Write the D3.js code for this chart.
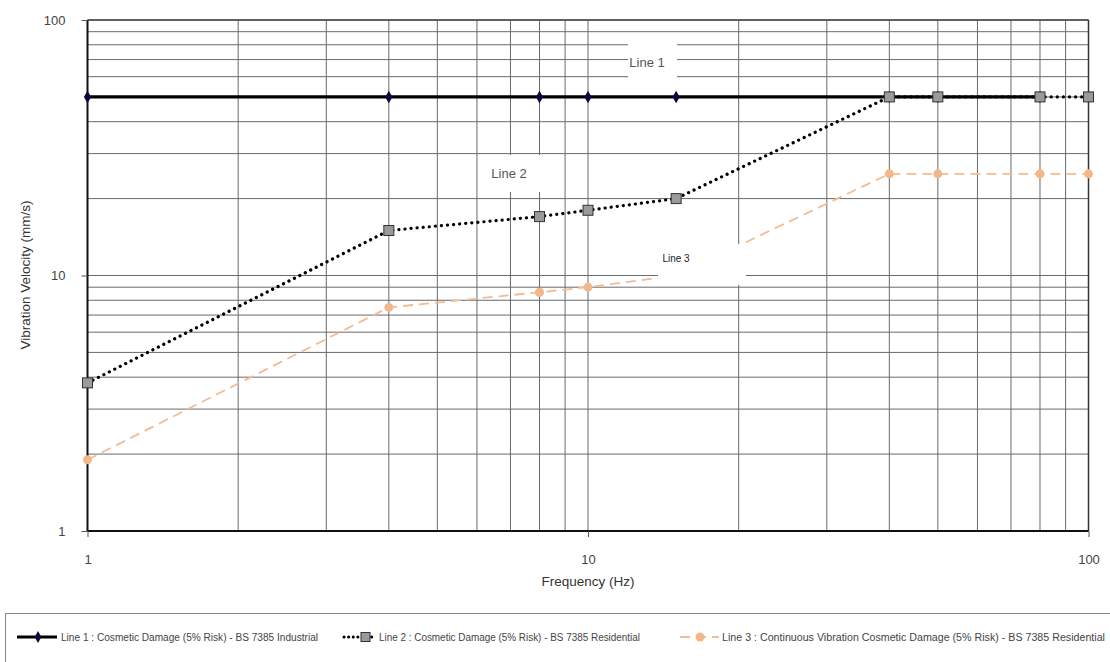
<!DOCTYPE html>
<html><head><meta charset="utf-8">
<script src="https://cdn.jsdelivr.net/npm/d3@7"></script>
<style>
body{margin:0;background:#fff;}
text{font-family:"Liberation Sans",Arial,sans-serif;}
</style></head>
<body><svg id="c" width="1110" height="662"></svg>
<script>
const freqTickLabels = [1, 10, 100];
const velTickLabels = [1, 10, 100];
const line1Freq = [1, 4, 8, 10, 15, 40, 50, 80];
const line1Vel  = [50, 50, 50, 50, 50, 50, 50, 50];
const line2Freq = [1, 4, 8, 10, 15, 40, 50, 80, 100];
const line2Vel  = [3.8, 15, 17, 18, 20, 50, 50, 50, 50];
const line3Freq = [1, 4, 8, 10, 15, 40, 50, 80, 100];
const line3Vel  = [1.9, 7.5, 8.6, 9, 10, 25, 25, 25, 25];
const seriesNames = [
  "Line 1 : Cosmetic Damage (5% Risk) - BS 7385 Industrial",
  "Line 2 : Cosmetic Damage (5% Risk) - BS 7385 Residential",
  "Line 3 : Continuous Vibration Cosmetic Damage (5% Risk) - BS 7385 Residential"
];
const inlineLabels = ["Line 1", "Line 2", "Line 3"];

const svg = d3.select("#c");
const x = d3.scaleLog().domain([1, 100]).range([87.5, 1088.5]);
const y = d3.scaleLog().domain([1, 100]).range([531, 20]);

// grid
const g = svg.append("g");
g.selectAll(".vg").data(x.ticks()).join("line")
  .attr("x1", d => x(d)).attr("x2", d => x(d)).attr("y1", y(100)).attr("y2", y(1))
  .attr("stroke", "#6a6a6a").attr("stroke-width", 1);
g.selectAll(".hg").data(y.ticks()).join("line")
  .attr("y1", d => y(d)).attr("y2", d => y(d)).attr("x1", x(1)).attr("x2", x(100))
  .attr("stroke", "#6a6a6a").attr("stroke-width", 1);

// frame
svg.append("line").attr("x1", x(1)).attr("x2", x(100)).attr("y1", y(100)).attr("y2", y(100)).attr("stroke", "#444").attr("stroke-width", 1.5);
svg.append("line").attr("x1", x(100)).attr("x2", x(100)).attr("y1", y(100)).attr("y2", y(1)).attr("stroke", "#333").attr("stroke-width", 1.5);
svg.append("line").attr("x1", x(1)).attr("x2", x(100)).attr("y1", y(1)).attr("y2", y(1)).attr("stroke", "#111").attr("stroke-width", 2);
svg.append("line").attr("x1", x(1)).attr("x2", x(1)).attr("y1", y(100)).attr("y2", y(1)).attr("stroke", "#111").attr("stroke-width", 2);

// axes ticks & labels
const yAxis = d3.axisLeft(y).tickValues(velTickLabels).tickFormat(d3.format("d")).tickSize(6).tickPadding(16);
const ya = svg.append("g").attr("transform", `translate(${x(1)},0)`).call(yAxis);
const xAxis = d3.axisBottom(x).tickValues(freqTickLabels).tickFormat(d3.format("d")).tickSize(6).tickPadding(18);
const xa = svg.append("g").attr("transform", `translate(0,${y(1)})`).call(xAxis);
[ya, xa].forEach(a => {
  a.select(".domain").remove();
  a.selectAll("line").attr("stroke", "#555");
  a.selectAll("text").attr("fill", "#444").style("font-size", "13px").style("font-family", "Liberation Sans, Arial, sans-serif");
});

svg.append("text").attr("x", 588).attr("y", 586).attr("text-anchor", "middle")
  .attr("fill", "#333").style("font-size", "13.5px").text("Frequency (Hz)");
svg.append("text").attr("transform", "translate(30,275) rotate(-90)").attr("text-anchor", "middle")
  .attr("fill", "#333").style("font-size", "13.5px").text("Vibration Velocity (mm/s)");

const lineGen = d3.line().x(d => x(d[0])).y(d => y(d[1]));
const d1 = line1Freq.map((f, i) => [f, line1Vel[i]]);
const d2 = line2Freq.map((f, i) => [f, line2Vel[i]]);
const d3d = line3Freq.map((f, i) => [f, line3Vel[i]]);

svg.append("path").attr("d", lineGen(d3d)).attr("fill", "none")
  .attr("stroke", "#f2bc94").attr("stroke-width", 1.8).attr("stroke-dasharray", "10,6");
svg.append("path").attr("d", lineGen(d2)).attr("fill", "none")
  .attr("stroke", "#000").attr("stroke-width", 3.2).attr("stroke-linecap", "round").attr("stroke-dasharray", "0.1,6");
svg.append("path").attr("d", lineGen(d1)).attr("fill", "none")
  .attr("stroke", "#000").attr("stroke-width", 3.2);

svg.selectAll(".m1").data(d1).join("path")
  .attr("transform", d => `translate(${x(d[0])},${y(d[1])})`)
  .attr("d", d3.symbol().type(d3.symbolDiamond).size(45)).attr("fill", "#0a0a40");
svg.selectAll(".m2").data(d2).join("rect")
  .attr("x", d => x(d[0]) - 5).attr("y", d => y(d[1]) - 5).attr("width", 10).attr("height", 10)
  .attr("fill", "#9a9a9a").attr("stroke", "#333").attr("stroke-width", 1);
svg.selectAll(".m3").data(d3d).join("circle")
  .attr("cx", d => x(d[0])).attr("cy", d => y(d[1])).attr("r", 4.5).attr("fill", "#f2b88c");

const lab = [
  {t: inlineLabels[0], bx: 628, by: 38, bw: 49, bh: 48, tx: 647, ty: 67, fs: 13, c: "#555"},
  {t: inlineLabels[1], bx: 478, by: 155, bw: 62, bh: 37, tx: 509, ty: 178, fs: 13, c: "#555"},
  {t: inlineLabels[2], bx: 658, by: 244, bw: 88, bh: 41, tx: 676, ty: 262, fs: 10, c: "#222"}
];
lab.forEach(l => {
  svg.append("rect").attr("x", l.bx).attr("y", l.by).attr("width", l.bw).attr("height", l.bh).attr("fill", "#fff");
  svg.append("text").attr("x", l.tx).attr("y", l.ty).attr("text-anchor", "middle")
    .attr("fill", l.c).style("font-size", l.fs + "px").text(l.t);
});

// legend
svg.append("rect").attr("x", 5.5).attr("y", 613.5).attr("width", 1120).attr("height", 60)
  .attr("fill", "#fff").attr("stroke", "#888").attr("stroke-width", 1);
const ly = 637;
const leg = svg.append("g");
leg.append("line").attr("x1", 17).attr("x2", 57).attr("y1", ly).attr("y2", ly).attr("stroke", "#000").attr("stroke-width", 3);
leg.append("path").attr("transform", `translate(38,${ly})`).attr("d", d3.symbol().type(d3.symbolDiamond).size(40)).attr("fill", "#0a0a40");
leg.append("text").attr("x", 61).attr("y", ly + 3.5).attr("fill", "#444").style("font-size", "10px")
  .attr("textLength", 257).attr("lengthAdjust", "spacingAndGlyphs").text(seriesNames[0]);
leg.append("line").attr("x1", 344).attr("x2", 376).attr("y1", ly).attr("y2", ly).attr("stroke", "#000").attr("stroke-width", 3).attr("stroke-linecap", "round").attr("stroke-dasharray", "0.1,4.5");
leg.append("rect").attr("x", 361).attr("y", ly - 4.5).attr("width", 9).attr("height", 9).attr("fill", "#9a9a9a").attr("stroke", "#333");
leg.append("text").attr("x", 379).attr("y", ly + 3.5).attr("fill", "#444").style("font-size", "10px")
  .attr("textLength", 261).attr("lengthAdjust", "spacingAndGlyphs").text(seriesNames[1]);
leg.append("line").attr("x1", 680).attr("x2", 719).attr("y1", ly).attr("y2", ly).attr("stroke", "#f2bc94").attr("stroke-width", 1.8).attr("stroke-dasharray", "10,6");
leg.append("circle").attr("cx", 700).attr("cy", ly).attr("r", 4.5).attr("fill", "#f2b88c");
leg.append("text").attr("x", 722).attr("y", ly + 3.5).attr("fill", "#444").style("font-size", "10px")
  .attr("textLength", 383).attr("lengthAdjust", "spacingAndGlyphs").text(seriesNames[2]);
</script></body></html>
